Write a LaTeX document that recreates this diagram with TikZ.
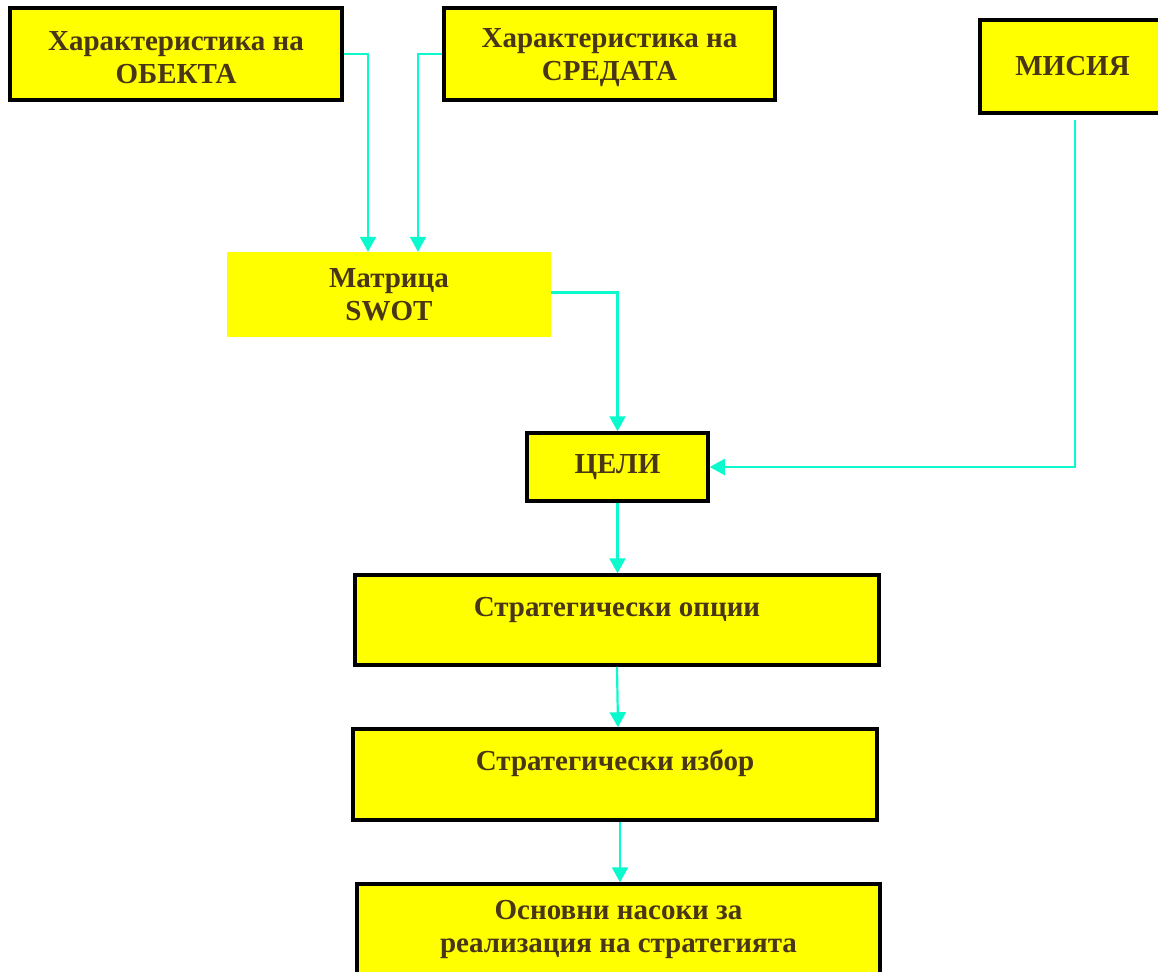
\documentclass[tikz,border=0pt]{standalone}
\usepackage{fontspec}
\setmainfont{Liberation Serif}
\usetikzlibrary{arrows.meta}
\definecolor{boxyellow}{RGB}{255,255,0}
\definecolor{txtbrown}{RGB}{72,54,22}
\definecolor{aqua}{RGB}{10,250,205}
\tikzset{
  box/.style={draw=black, line width=3.5pt, fill=boxyellow, inner sep=0pt, align=center,
    text=txtbrown, font=\fontsize{29}{33}\selectfont\bfseries},
  plainbox/.style={fill=boxyellow, inner sep=0pt, align=center,
    text=txtbrown, font=\fontsize{29}{33}\selectfont\bfseries},
  conn/.style={draw=aqua, line width=2.2pt, -{Triangle[width=16pt,length=15pt]}}
}
\begin{document}
\begin{tikzpicture}[x=1pt,y=-1pt]
\useasboundingbox[fill=white] (0,0) rectangle (1158,971);
\node[box, minimum width=332pt, minimum height=92pt] (obj) at (176,54) {\rule{0pt}{26pt}Характеристика на\\ОБЕКТА};
\node[box, minimum width=331pt, minimum height=92pt] (env) at (609.5,54) {\rule{0pt}{26pt}Характеристика на\\СРЕДАТА};
\node[box, minimum width=185pt, minimum height=93pt] (mis) at (1072.5,66.5) {МИСИЯ};
\node[plainbox, minimum width=324pt, minimum height=85pt] (swot) at (389,294.5) {Матрица\\SWOT};
\node[box, minimum width=181pt, minimum height=68pt] (goals) at (617.5,467) {ЦЕЛИ};
\node[box, minimum width=524pt, minimum height=90pt, text height=20pt, text depth=28pt] (opt) at (617,620) {Стратегически опции};
\node[box, minimum width=524pt, minimum height=91pt, text height=20pt, text depth=28pt] (choice) at (615,774.5) {Стратегически избор};
\node[box, minimum width=523pt, minimum height=90pt] (dir) at (618.5,929) {Основни насоки за\\реализация на стратегията};
\draw[conn] (obj.east) -| ([xshift=-21pt]swot.north);
\draw[conn] (env.west) -| ([xshift=29pt]swot.north);
\draw[conn] ([yshift=2pt]swot.east) -| (goals.north);
\draw[conn] ([xshift=2.5pt,yshift=-5pt]mis.south) |- (goals.east);
\draw[conn] (goals.south) -- (goals.south |- opt.north);
\draw[conn] (opt.south) -- ([xshift=3pt]choice.north);
\draw[conn] ([xshift=5pt]choice.south) -- ([xshift=5pt]choice.south |- dir.north);
\end{tikzpicture}
\end{document}
